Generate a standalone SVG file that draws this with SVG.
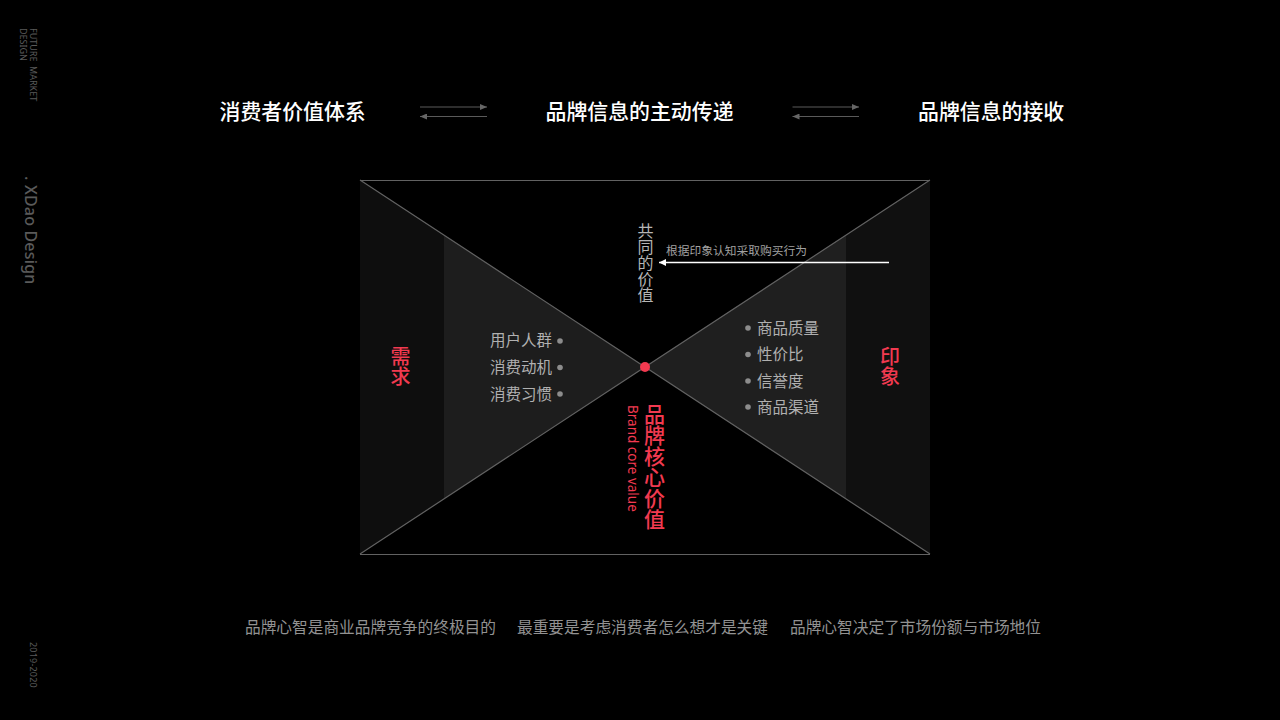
<svg xmlns="http://www.w3.org/2000/svg" width="1280" height="720" viewBox="0 0 1280 720">
<style>
text{font-family:"Noto Sans CJK SC","Noto Sans",sans-serif}
.v{writing-mode:vertical-rl;text-anchor:start}
.h{font-size:20.900px;font-weight:500;fill:#fff}
.li{font-size:15.500px;fill:#b0b0b0}
.dot{fill:#8c8c8c}
.red{fill:#f23a50;font-weight:500}
.side{fill:#5a5a5a;font-family:"Noto Sans",sans-serif}
.ln{stroke:#626262;stroke-width:1.200;fill:none}
.ar{stroke:#5a5a5a;stroke-width:1;fill:none}
</style>
<defs>
<marker id="ag" markerUnits="userSpaceOnUse" markerWidth="8" markerHeight="6" refX="7" refY="3" orient="auto-start-reverse"><path d="M0 0L7 3L0 6Z" fill="#666"/></marker>
<marker id="aw" markerUnits="userSpaceOnUse" markerWidth="8" markerHeight="8" refX="7" refY="4" orient="auto"><path d="M0 0.500L7 4L0 7.500Z" fill="#fff"/></marker>
</defs>
<rect width="1280" height="720" fill="#000"/>
<g id="sidebar">
<text class="v side" x="33" y="28" font-size="9" style="word-spacing:2.300px">FUTURE MARKET</text>
<text class="v side" x="23" y="28" font-size="9">DESIGN</text>
<text class="v side" x="30.500" y="176" font-size="16" font-weight="500" style="letter-spacing:.2px">. XDao Design</text>
<text class="v side" x="33.500" y="642" font-size="9" style="letter-spacing:.2px">2019-2020</text>
</g>
<g id="header">
<text class="h" x="219.500" y="119">消费者价值体系</text>
<text class="h" x="545.500" y="119">品牌信息的主动传递</text>
<text class="h" x="918" y="119">品牌信息的接收</text>
</g>
<g id="funnel-left">
<path d="M360 180L444 235V499L360 554Z" fill="#0e0e0e"/>
<path d="M444 235L645 367L444 499Z" fill="#1d1d1d"/>
<text class="red v" x="400.500" y="346.500" font-size="20">需求</text>
<text class="li" x="490" y="346">用户人群</text>
<text class="li" x="490" y="373">消费动机</text>
<text class="li" x="490" y="400">消费习惯</text>
<circle class="dot" cx="560" cy="341" r="2.800"/><circle class="dot" cx="560" cy="367.500" r="2.800"/><circle class="dot" cx="560" cy="394" r="2.800"/>
</g>
<g id="funnel-right">
<path d="M930 180L846 235V499L930 554Z" fill="#101010"/>
<path d="M846 235L645 367L846 499Z" fill="#1f1f1f"/>
<text class="red v" x="890" y="346.500" font-size="20">印象</text>
<text class="li" x="757" y="334">商品质量</text>
<text class="li" x="757" y="360">性价比</text>
<text class="li" x="757" y="387">信誉度</text>
<text class="li" x="757" y="413">商品渠道</text>
<circle class="dot" cx="748" cy="328" r="2.800"/><circle class="dot" cx="748" cy="354.500" r="2.800"/><circle class="dot" cx="748" cy="381" r="2.800"/><circle class="dot" cx="748" cy="407" r="2.800"/>
</g>
<g id="connectors">
<path class="ar" d="M420 107H487" marker-end="url(#ag)"/>
<path class="ar" d="M420 116.500H487" marker-start="url(#ag)"/>
<path class="ar" d="M792.500 107H859" marker-end="url(#ag)"/>
<path class="ar" d="M792.500 116.500H859" marker-start="url(#ag)"/>
<path class="ln" d="M360 180.500H930M360 554.500H930M360 180L645 367L930 180M360 554L645 367L930 554"/>
<path d="M889 262.500H659" stroke="#fff" stroke-width="1.300" fill="none" marker-end="url(#aw)"/>
</g>
<g id="center">
<text class="v" x="645.500" y="223" font-size="16" fill="#b5b5b5">共同的价值</text>
<text x="666" y="255" font-size="11.750" fill="#a0a0a0">根据印象认知采取购买行为</text>
<circle cx="645" cy="367" r="5" fill="#f23a50"/>
<text class="red v" x="654.500" y="404" font-size="21">品牌核心价值</text>
<text class="v" x="633" y="405" font-size="13.500" fill="#f23a50" style="font-family:'Noto Sans',sans-serif">Brand core value</text>
</g>
<g id="footer" font-size="15.700" fill="#929292">
<text x="245" y="633">品牌心智是商业品牌竞争的终极目的</text>
<text x="517" y="633">最重要是考虑消费者怎么想才是关键</text>
<text x="790" y="633">品牌心智决定了市场份额与市场地位</text>
</g>
</svg>
